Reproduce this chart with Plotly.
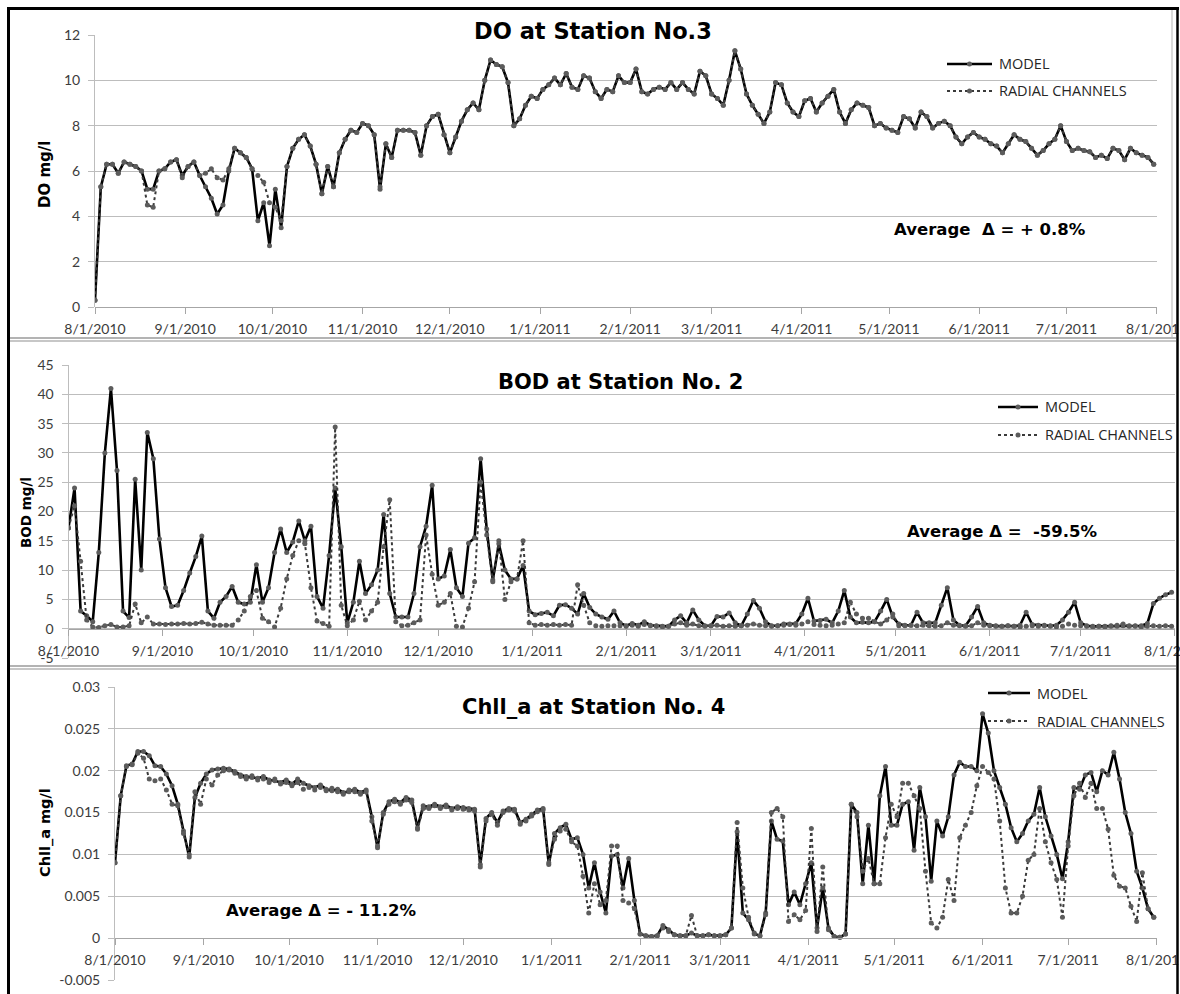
import pandas as pd
import plotly.graph_objects as go

# ---------------------------------------------------------------
# Daily-run output, sampled every second day from 8/1/2010
# ---------------------------------------------------------------
do_model = [
    0.3, 5.3, 6.3, 6.3, 5.9, 6.4, 6.3, 6.2, 6.0, 5.2,
    5.2, 6.0, 6.1, 6.4, 6.5, 5.8, 6.2, 6.4, 5.8, 5.3,
    4.8, 4.1, 4.5, 6.0, 7.0, 6.8, 6.6, 6.1, 3.8, 4.6,
    2.7, 5.2, 3.5, 6.2, 7.0, 7.4, 7.6, 7.1, 6.3, 5.0,
    6.2, 5.3, 6.8, 7.4, 7.8, 7.7, 8.1, 8.0, 7.6, 5.2,
    7.2, 6.6, 7.8, 7.8, 7.8, 7.7, 6.7, 8.0, 8.4, 8.5,
    7.6, 6.8, 7.5, 8.2, 8.7, 9.0, 8.7, 10.0, 10.9, 10.7,
    10.6, 9.9, 8.0, 8.3, 8.9, 9.3, 9.2, 9.6, 9.8, 10.1,
    9.8, 10.3, 9.7, 9.6, 10.2, 10.1, 9.5, 9.2, 9.6, 9.5,
    10.2, 9.9, 9.9, 10.5, 9.5, 9.4, 9.6, 9.7, 9.6, 9.9,
    9.6, 9.9, 9.6, 9.4, 10.4, 10.2, 9.4, 9.2, 8.9, 10.0,
    11.3, 10.5, 9.4, 8.9, 8.5, 8.1, 8.6, 9.9, 9.8, 9.0,
    8.6, 8.4, 9.1, 9.2, 8.6, 9.0, 9.3, 9.6, 8.6, 8.1,
    8.7, 9.0, 8.9, 8.8, 8.0, 8.1, 7.9, 7.8, 7.7, 8.4,
    8.3, 7.9, 8.6, 8.4, 7.9, 8.1, 8.2, 8.0, 7.5, 7.2,
    7.5, 7.7, 7.5, 7.4, 7.2, 7.1, 6.8, 7.2, 7.6, 7.4,
    7.3, 7.0, 6.7, 6.9, 7.2, 7.4, 8.0, 7.3, 6.9, 7.0,
    6.9, 6.85, 6.6, 6.7, 6.55, 7.0, 6.9, 6.5, 7.0, 6.8,
    6.7, 6.6, 6.3,
]
do_radial = [
    0.3, 5.3, 6.3, 6.3, 5.9, 6.4, 6.3, 6.2, 6.0, 4.5,
    4.4, 6.0, 6.1, 6.4, 6.5, 5.7, 6.2, 6.4, 5.8, 5.9,
    6.1, 5.7, 5.6, 6.1, 7.0, 6.8, 6.6, 6.1, 5.8, 5.5,
    4.6, 4.4, 3.8, 6.2, 7.0, 7.4, 7.6, 7.1, 6.3, 5.0,
    6.2, 5.3, 6.8, 7.4, 7.8, 7.7, 8.1, 8.0, 7.6, 5.3,
    7.2, 6.6, 7.8, 7.8, 7.8, 7.7, 6.7, 8.0, 8.4, 8.5,
    7.6, 6.8, 7.5, 8.2, 8.7, 9.0, 8.7, 10.0, 10.9, 10.7,
    10.6, 9.9, 8.0, 8.3, 8.9, 9.3, 9.2, 9.6, 9.8, 10.1,
    9.8, 10.3, 9.7, 9.6, 10.2, 10.1, 9.5, 9.2, 9.6, 9.5,
    10.2, 9.9, 9.9, 10.5, 9.5, 9.4, 9.6, 9.7, 9.6, 9.9,
    9.6, 9.9, 9.6, 9.4, 10.4, 10.2, 9.4, 9.2, 8.9, 10.0,
    11.3, 10.5, 9.4, 8.9, 8.5, 8.1, 8.6, 9.9, 9.8, 9.0,
    8.6, 8.4, 9.1, 9.2, 8.6, 9.0, 9.3, 9.6, 8.6, 8.1,
    8.7, 9.0, 8.9, 8.8, 8.0, 8.1, 7.9, 7.8, 7.7, 8.4,
    8.3, 7.9, 8.6, 8.4, 7.9, 8.1, 8.2, 8.0, 7.5, 7.2,
    7.5, 7.7, 7.5, 7.4, 7.2, 7.1, 6.8, 7.2, 7.6, 7.4,
    7.3, 7.0, 6.7, 6.9, 7.2, 7.4, 8.0, 7.3, 6.9, 7.0,
    6.9, 6.85, 6.6, 6.7, 6.55, 7.0, 6.9, 6.5, 7.0, 6.8,
    6.7, 6.6, 6.3,
]

bod_model = [
    17.2, 24.0, 3.0, 2.2, 1.2, 13.0, 30.0, 41.0, 27.0, 3.0,
    1.9, 25.5, 10.0, 33.5, 29.0, 15.3, 7.0, 3.8, 4.0, 6.5,
    9.5, 12.3, 15.8, 3.0, 1.8, 4.5, 5.5, 7.2, 4.5, 4.2,
    4.5, 10.9, 4.5, 7.0, 13.0, 17.0, 13.0, 14.8, 18.4, 15.0,
    17.5, 5.5, 3.5, 12.5, 24.0, 14.0, 1.0, 4.5, 11.5, 6.0,
    7.5, 10.0, 19.5, 6.0, 2.0, 2.0, 2.0, 6.0, 14.0, 17.5,
    24.5, 8.5, 9.0, 13.5, 7.0, 5.5, 14.6, 15.5, 29.0, 17.0,
    8.3, 14.5, 10.0, 8.5, 8.5, 10.8, 3.0, 2.4, 2.6, 2.8,
    2.2, 4.0, 4.1, 3.5, 2.5, 6.0, 3.6, 2.5, 2.0, 1.6,
    3.0, 1.0, 0.5, 0.9, 0.6, 1.2, 0.6, 0.5, 0.4, 0.4,
    1.5, 2.2, 1.0, 3.2, 1.5, 0.5, 0.5, 2.1, 2.0, 2.7,
    1.0, 0.5, 2.5, 4.8, 3.5, 1.2, 0.5, 0.5, 0.8, 0.8,
    0.9, 2.5, 5.2, 1.3, 1.4, 1.6, 1.0, 3.0, 6.5, 2.0,
    1.0, 1.1, 1.0, 1.2, 3.0, 5.0, 2.0, 0.8, 0.6, 0.6,
    2.8, 1.0, 1.0, 1.0, 4.0, 7.0, 1.5, 0.6, 0.5, 2.0,
    3.8, 1.0, 0.6, 0.5, 0.4, 0.5, 0.4, 0.6, 2.8, 0.7,
    0.6, 0.6, 0.5, 0.6, 1.5, 2.8, 4.5, 1.0, 0.5, 0.4,
    0.4, 0.4, 0.5, 0.4, 0.5, 0.4, 0.5, 0.5, 0.9, 4.3,
    5.2, 5.8, 6.2,
]
bod_radial = [
    17.2, 21.0, 11.5, 1.5, 0.3, 0.2, 0.5, 0.7, 0.3, 0.3,
    0.5, 4.2, 1.0, 2.0, 0.8, 0.8, 0.7, 0.8, 0.8, 0.9,
    0.8, 0.9, 1.1, 0.8, 0.6, 0.6, 0.6, 0.6, 1.5, 3.0,
    5.5, 6.5, 1.8, 1.2, 0.3, 3.5, 8.5, 12.5, 15.0, 14.5,
    7.0, 1.3, 0.9, 0.4, 34.4, 4.0, 0.5, 1.5, 4.7, 1.5,
    3.0, 4.5, 14.0, 22.0, 1.2, 0.5, 0.6, 1.0, 1.5, 16.0,
    9.3, 4.0, 4.5, 6.0, 0.4, 0.3, 3.5, 8.0, 25.0, 16.0,
    8.0, 15.0, 5.0, 8.0, 8.5, 15.0, 1.0, 0.6, 0.7, 0.6,
    0.7, 0.6, 0.7, 0.6, 7.5, 4.0, 1.0, 0.5, 0.4, 0.5,
    0.5, 0.5, 0.4, 0.6, 0.4, 0.7, 0.5, 0.4, 0.3, 0.4,
    0.8, 1.0, 0.6, 0.8, 0.5, 0.4, 0.5, 0.6, 0.4, 0.5,
    0.4, 0.5, 0.6, 0.8, 0.6, 0.5, 0.4, 0.5, 0.6, 0.7,
    0.6, 0.8, 1.2, 0.7, 0.6, 0.5, 0.6, 0.8, 1.0, 4.5,
    2.5, 1.8, 1.8, 1.2, 0.8, 1.5, 2.5, 0.5, 0.5, 0.6,
    0.5, 0.6, 0.5, 0.4, 0.5, 1.0, 0.6, 0.5, 0.4, 0.5,
    1.0, 0.6, 0.5, 0.4, 0.4, 0.5, 0.4, 0.3, 0.4, 0.5,
    0.4, 0.5, 0.4, 0.3, 0.4, 0.8, 0.6, 0.5, 0.4, 0.3,
    0.4, 0.3, 0.4, 0.6, 0.8, 0.5, 0.4, 0.3, 0.4, 0.5,
    0.4, 0.5, 0.4,
]

chl_model = [
    0.0090, 0.0170, 0.0206, 0.0208, 0.0223, 0.0223, 0.0218, 0.0206, 0.0205, 0.0196,
    0.0182, 0.0160, 0.0128, 0.0097, 0.0168, 0.0185, 0.0196, 0.0201, 0.0202, 0.0203,
    0.0202, 0.0199, 0.0195, 0.0193, 0.0192, 0.0191, 0.0193, 0.0189, 0.0188, 0.0186,
    0.0189, 0.0184, 0.0190, 0.0185, 0.0182, 0.0180, 0.0183, 0.0178, 0.0176, 0.0178,
    0.0174, 0.0175, 0.0178, 0.0174, 0.0177, 0.0145, 0.0108, 0.0150, 0.0163, 0.0166,
    0.0162, 0.0168, 0.0165, 0.0132, 0.0158, 0.0157, 0.0160, 0.0157, 0.0159, 0.0155,
    0.0157, 0.0156, 0.0155, 0.0154, 0.0088, 0.0143, 0.0150, 0.0138, 0.0152, 0.0155,
    0.0154, 0.0138, 0.0142, 0.0148, 0.0153, 0.0155, 0.0088, 0.0125, 0.0132, 0.0136,
    0.0118, 0.0120, 0.0100, 0.0060, 0.0090, 0.0055, 0.0030, 0.0098, 0.0100, 0.0060,
    0.0095, 0.0045, 0.0005, 0.0003, 0.0002, 0.0003, 0.0015, 0.0010, 0.0004, 0.0003,
    0.0003, 0.0006, 0.0003, 0.0003, 0.0004, 0.0003, 0.0003, 0.0004, 0.0012, 0.0127,
    0.0030, 0.0022, 0.0005, 0.0003, 0.0030, 0.0140, 0.0118, 0.0116, 0.0040, 0.0055,
    0.0040, 0.0065, 0.0090, 0.0012, 0.0060, 0.0012, 0.0002, 0.0001, 0.0005, 0.0160,
    0.0150, 0.0065, 0.0135, 0.0065, 0.0170, 0.0205, 0.0135, 0.0135, 0.0160, 0.0163,
    0.0105, 0.0180, 0.0145, 0.0068, 0.0140, 0.0122, 0.0145, 0.0195, 0.0210, 0.0205,
    0.0205, 0.0200, 0.0268, 0.0245, 0.0200, 0.0180, 0.0160, 0.0132, 0.0115, 0.0125,
    0.0140, 0.0148, 0.0180, 0.0145, 0.0122, 0.0100, 0.0071, 0.0115, 0.0180, 0.0178,
    0.0195, 0.0198, 0.0175, 0.0200, 0.0195, 0.0222, 0.0190, 0.0150, 0.0125, 0.0080,
    0.0060, 0.0035, 0.0025,
]
chl_radial = [
    0.0090, 0.0170, 0.0205, 0.0207, 0.0221, 0.0215, 0.0190, 0.0188, 0.0190, 0.0177,
    0.0160, 0.0158, 0.0125, 0.0100, 0.0175, 0.0160, 0.0190, 0.0183, 0.0195, 0.0200,
    0.0201, 0.0197, 0.0193, 0.0190, 0.0194, 0.0189, 0.0190, 0.0186, 0.0190, 0.0184,
    0.0186, 0.0182, 0.0186, 0.0178, 0.0180, 0.0177, 0.0180, 0.0176, 0.0179, 0.0175,
    0.0172, 0.0177, 0.0175, 0.0172, 0.0175, 0.0140, 0.0110, 0.0148, 0.0160, 0.0163,
    0.0160, 0.0165, 0.0162, 0.0130, 0.0155, 0.0155, 0.0158, 0.0155, 0.0157, 0.0153,
    0.0155, 0.0154, 0.0153, 0.0152, 0.0085, 0.0140, 0.0148, 0.0135, 0.0150, 0.0153,
    0.0152, 0.0136, 0.0140, 0.0146, 0.0151, 0.0153, 0.0090, 0.0118, 0.0128, 0.0130,
    0.0115, 0.0110, 0.0074, 0.0030, 0.0065, 0.0040, 0.0045, 0.0110, 0.0110, 0.0045,
    0.0042, 0.0035, 0.0005, 0.0003, 0.0002, 0.0003, 0.0012, 0.0008, 0.0004, 0.0003,
    0.0003, 0.0027, 0.0003, 0.0003, 0.0004, 0.0003, 0.0003, 0.0004, 0.0012, 0.0138,
    0.0060, 0.0025, 0.0006, 0.0003, 0.0028, 0.0150, 0.0155, 0.0145, 0.0020, 0.0028,
    0.0022, 0.0033, 0.0131, 0.0008, 0.0085, 0.0010, 0.0002, 0.0001, 0.0005, 0.0160,
    0.0145, 0.0080, 0.0095, 0.0065, 0.0065, 0.0120, 0.0160, 0.0145, 0.0185, 0.0185,
    0.0170, 0.0155, 0.0080, 0.0018, 0.0012, 0.0025, 0.0070, 0.0045, 0.0120, 0.0135,
    0.0150, 0.0182, 0.0205, 0.0198, 0.0190, 0.0140, 0.0060, 0.0030, 0.0030, 0.0050,
    0.0093, 0.0100, 0.0155, 0.0115, 0.0090, 0.0070, 0.0025, 0.0110, 0.0170, 0.0185,
    0.0168, 0.0185, 0.0155, 0.0155, 0.0130, 0.0075, 0.0062, 0.0060, 0.0038, 0.0020,
    0.0078, 0.0035, 0.0025,
]

dates = pd.date_range("2010-08-01", periods=len(do_model), freq="2D")
for s in (do_radial, bod_model, bod_radial, chl_model, chl_radial):
    assert len(s) == len(dates)

month_ticks = [
    "2010-08-01", "2010-09-01", "2010-10-01", "2010-11-01", "2010-12-01",
    "2011-01-01", "2011-02-01", "2011-03-01", "2011-04-01", "2011-05-01",
    "2011-06-01", "2011-07-01", "2011-08-01",
]
month_labels = [
    "8/1/2010", "9/1/2010", "10/1/2010", "11/1/2010", "12/1/2010",
    "1/1/2011", "2/1/2011", "3/1/2011", "4/1/2011", "5/1/2011",
    "6/1/2011", "7/1/2011", "8/1/2011",
]

do_ticks = [0, 2, 4, 6, 8, 10, 12]
do_tick_labels = ["0", "2", "4", "6", "8", "10", "12"]
bod_ticks = [-5, 0, 5, 10, 15, 20, 25, 30, 35, 40, 45]
bod_tick_labels = ["-5", "0", "5", "10", "15", "20", "25", "30", "35", "40", "45"]
chl_ticks = [-0.005, 0, 0.005, 0.01, 0.015, 0.02, 0.025, 0.03]
chl_tick_labels = ["-0.005", "0", "0.005", "0.01", "0.015", "0.02", "0.025", "0.03"]

panel_titles = ["DO at Station No.3", "BOD at Station No. 2", "Chll_a at Station No. 4"]
axis_titles = ["DO mg/l", "BOD mg/l", "Chll_a mg/l"]
delta_notes = ["Average\u00a0\u00a0\u0394 = + 0.8%", "Average \u0394 =\u00a0\u00a0-59.5%",
               "Average \u0394 = - 11.2%"]
series_names = ["MODEL", "RADIAL CHANNELS"]

# ---------------------------------------------------------------
# Page geometry (pixels on a 1180 x 994 canvas)
# ---------------------------------------------------------------
W, H = 1180, 994
FONT = "Lato, 'Open Sans', sans-serif"
BOLD_FONT = "'DejaVu Sans', Verdana, sans-serif"
LEGEND_FONT = "'Open Sans', Lato, sans-serif"
GRID = "#bdbdbd"
AXIS = "#a6a6a6"
TICKTXT = "#3c3c3c"
DOT = "#5c5c5c"
X_END = "2011-08-01 03:00"


def fx(p):
    return p / W


def fy(p):
    return 1 - p / H


panels = [
    dict(x0=95, x1=1157, ytop=35, ybot=307, yaxis_px=307, rng=[0, 12],
         tv=do_ticks, tt=do_tick_labels, model=do_model, radial=do_radial),
    dict(x0=68.5, x1=1175, ytop=365, ybot=658, yaxis_px=629, rng=[-5, 45],
         tv=bod_ticks, tt=bod_tick_labels, model=bod_model, radial=bod_radial),
    dict(x0=115, x1=1157, ytop=687, ybot=980, yaxis_px=938, rng=[-0.005, 0.03],
         tv=chl_ticks, tt=chl_tick_labels, model=chl_model, radial=chl_radial),
]

fig = go.Figure()
layout = dict(
    width=W, height=H, margin=dict(l=0, r=0, t=0, b=0),
    paper_bgcolor="white", plot_bgcolor="white", showlegend=False,
    template="none", font=dict(family=FONT, color=TICKTXT),
)

for k, p in enumerate(panels, start=1):
    xs = "x" if k == 1 else f"x{k}"
    ys = "y" if k == 1 else f"y{k}"
    xkey = "xaxis" if k == 1 else f"xaxis{k}"
    ykey = "yaxis" if k == 1 else f"yaxis{k}"

    fig.add_trace(go.Scatter(
        x=dates, y=p["model"], xaxis=xs, yaxis=ys, mode="lines+markers",
        name=series_names[0], line=dict(color="black", width=2.6),
        marker=dict(size=5, color=DOT)))
    fig.add_trace(go.Scatter(
        x=dates, y=p["radial"], xaxis=xs, yaxis=ys, mode="lines+markers",
        name=series_names[1], line=dict(color="#3a3a3a", width=2, dash="dot"),
        marker=dict(size=5, color=DOT)))

    layout[xkey] = dict(
        domain=[fx(p["x0"]), fx(p["x1"])], anchor="free", position=fy(p["yaxis_px"]),
        range=["2010-08-01", X_END], tickmode="array",
        tickvals=month_ticks, ticktext=month_labels, showgrid=False, zeroline=False,
        showline=True, linecolor=AXIS, linewidth=1, ticks="outside", ticklen=6,
        tickcolor=AXIS, ticklabelstandoff=3, automargin=False, ticklabeloverflow="allow",
        tickfont=dict(family=FONT, size=14, color=TICKTXT),
    )
    layout[ykey] = dict(
        domain=[fy(p["ybot"]), fy(p["ytop"])], anchor=xs, range=p["rng"],
        tickmode="array", tickvals=p["tv"], ticktext=p["tt"],
        showgrid=True, gridcolor=GRID, gridwidth=1.2, zeroline=False,
        showline=True, linecolor=GRID, linewidth=1, ticks="outside", ticklen=6,
        tickcolor=GRID, ticklabelstandoff=5, automargin=False,
        tickfont=dict(family=FONT, size=14, color=TICKTXT),
    )

ann = []
# panel titles
for txt, (cx, cy), sz in zip(panel_titles, [(593, 31), (620, 382), (594, 707)], (22.5, 21, 21)):
    ann.append(dict(text=f"<b>{txt}</b>", x=fx(cx), y=fy(cy), xref="paper", yref="paper",
                    showarrow=False, xanchor="center", yanchor="middle",
                    font=dict(family=BOLD_FONT, size=sz, color="black")))
# axis titles
for txt, (cx, cy), sz in zip(axis_titles, [(45, 175), (26, 513), (45, 833)], (15, 13.5, 14.5)):
    ann.append(dict(text=f"<b>{txt}</b>", x=fx(cx), y=fy(cy), xref="paper", yref="paper",
                    showarrow=False, xanchor="center", yanchor="middle", textangle=-90,
                    font=dict(family=BOLD_FONT, size=sz, color="black")))
# average difference notes
for txt, (cx, cy) in zip(delta_notes, [(990, 230), (1002, 531), (321, 910)]):
    ann.append(dict(text=f"<b>{txt}</b>", x=fx(cx), y=fy(cy), xref="paper", yref="paper",
                    showarrow=False, xanchor="center", yanchor="middle",
                    font=dict(family=BOLD_FONT, size=16.5, color="black")))

shapes = []
# hand-placed legends: (line start, line end, text x, model y, radial y)
for lx0, lx1, tx, my, ry in [(947, 992, 997, 64, 91), (998, 1038, 1043, 407, 435),
                             (988, 1030, 1035, 693, 721)]:
    shapes.append(dict(type="line", xref="paper", yref="paper", x0=fx(lx0), x1=fx(lx1),
                       y0=fy(my), y1=fy(my), line=dict(color="black", width=2.6)))
    shapes.append(dict(type="line", xref="paper", yref="paper", x0=fx(lx0), x1=fx(lx1),
                       y0=fy(ry), y1=fy(ry), line=dict(color="#3a3a3a", width=2, dash="dot")))
    mx = (lx0 + lx1) / 2
    for yy in (my, ry):
        shapes.append(dict(type="circle", xref="paper", yref="paper",
                           x0=fx(mx - 2.5), x1=fx(mx + 2.5), y0=fy(yy + 2.5), y1=fy(yy - 2.5),
                           fillcolor=DOT, line=dict(width=0)))
    for name, yy in zip(series_names, (my, ry)):
        ann.append(dict(text=name, x=fx(tx), y=fy(yy), xref="paper", yref="paper",
                        showarrow=False, xanchor="left", yanchor="middle",
                        font=dict(family=LEGEND_FONT, size=14.5, color="#262626")))

# frame around the stacked panels
frame = [
    dict(x0=7, x1=1179, y0=8.5, y1=8.5, color="black", width=3),
    dict(x0=8.5, x1=8.5, y0=7, y1=994, color="black", width=3),
    dict(x0=1177.5, x1=1177.5, y0=7, y1=994, color="black", width=2.5),
    dict(x0=10, x1=1176, y0=338, y1=338, color="#9a9a9a", width=1.5),
    dict(x0=10, x1=1176, y0=341, y1=341, color="#b5b5b5", width=1.5),
    dict(x0=10, x1=1176, y0=666, y1=666, color="#9a9a9a", width=1.5),
    dict(x0=10, x1=1176, y0=669, y1=669, color="#b5b5b5", width=1.5),
    dict(x0=1172, x1=1172, y0=10, y1=337, color="#b5b5b5", width=1),
]
for f in frame:
    shapes.append(dict(type="line", xref="paper", yref="paper", x0=fx(f["x0"]), x1=fx(f["x1"]),
                       y0=fy(f["y0"]), y1=fy(f["y1"]), layer="above",
                       line=dict(color=f["color"], width=f["width"])))

layout["annotations"] = ann
layout["shapes"] = shapes
fig.update_layout(**layout)

fig.write_html("out.html", config={"displayModeBar": False})
